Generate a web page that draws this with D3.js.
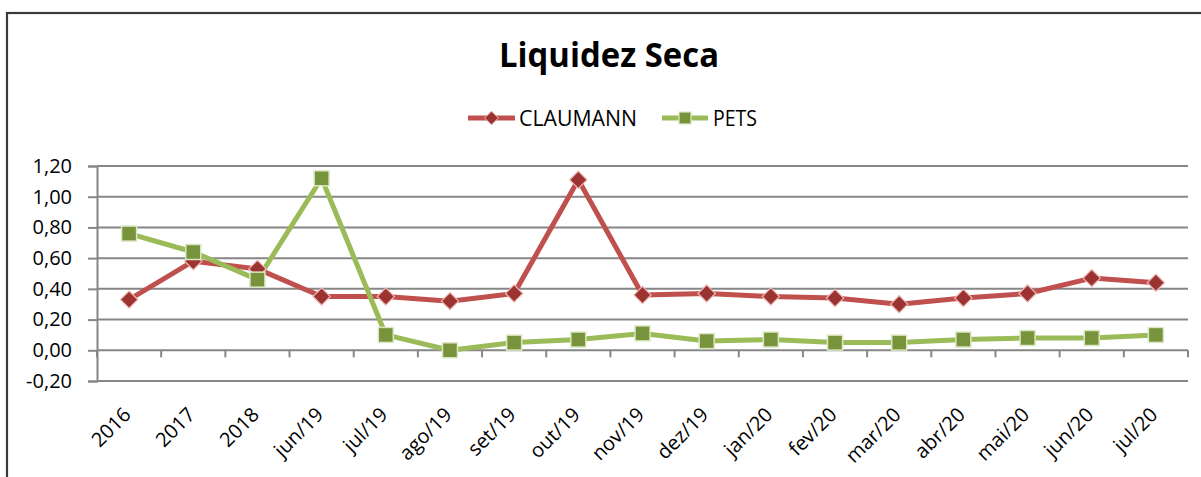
<!DOCTYPE html>
<html>
<head>
<meta charset="utf-8">
<script src="https://cdn.jsdelivr.net/npm/d3@7"></script>
<style>
  html, body { margin: 0; padding: 0; background: #fff; }
  svg { display: block; }
  text { font-family: "Open Sans", "Noto Sans", sans-serif; fill: #000; }
</style>
</head>
<body>
<div id="chart"></div>
<script>
// ── dados ──
const categories = ['2016', '2017', '2018', 'jun/19', 'jul/19', 'ago/19', 'set/19', 'out/19',
  'nov/19', 'dez/19', 'jan/20', 'fev/20', 'mar/20', 'abr/20', 'mai/20', 'jun/20', 'jul/20'];
const claumann = [0.33, 0.58, 0.53, 0.35, 0.35, 0.32, 0.37, 1.11, 0.36, 0.37, 0.35, 0.34, 0.30, 0.34, 0.37, 0.47, 0.44];
const pets     = [0.76, 0.64, 0.46, 1.12, 0.10, 0.00, 0.05, 0.07, 0.11, 0.06, 0.07, 0.05, 0.05, 0.07, 0.08, 0.08, 0.10];
const yTicks   = [-0.2, 0, 0.2, 0.4, 0.6, 0.8, 1.0, 1.2];
const seriesNames = ['CLAUMANN', 'PETS'];

const W = 1201, H = 477;
const M = { left: 97, right: 1188, top: 166, bottom: 381 };

const svg = d3.select('#chart').append('svg').attr('width', W).attr('height', H);

// moldura
svg.append('rect').attr('x', 7).attr('y', 13).attr('width', 1400).attr('height', 800)
  .attr('fill', 'none').attr('stroke', '#3a3a3a').attr('stroke-width', 2.2);

// ── escalas ──
const x = d3.scaleBand().domain(categories).range([M.left, M.right]).padding(0);
const y = d3.scaleLinear().domain([-0.2, 1.2]).range([M.bottom, M.top]);
const cx = c => x(c) + x.bandwidth() / 2;
const fmt = v => d3.format('.2f')(v).replace('.', ',').replace('−', '-');

// ── grade ──
const yAxis = d3.axisLeft(y).tickValues(yTicks).tickSize(9).tickFormat(fmt);
const gy = svg.append('g').attr('transform', `translate(${M.left},0)`).call(yAxis);
gy.select('.domain').attr('stroke', '#868686').attr('stroke-width', 2);
gy.selectAll('.tick line').attr('stroke', '#868686').attr('stroke-width', 2);
gy.selectAll('.tick text').attr('x', -25).attr('font-size', 20)
  .attr('font-family', '"Open Sans", sans-serif').attr('fill', '#000');
svg.append('g').selectAll('line').data(yTicks).enter().append('line')
  .attr('x1', M.left).attr('x2', M.right)
  .attr('y1', d => y(d)).attr('y2', d => y(d))
  .attr('stroke', '#868686').attr('stroke-width', 2);

// eixo x em zero
const bounds = categories.map(c => x(c) + x.bandwidth()).concat([M.left]);
svg.append('g').selectAll('line').data(bounds).enter().append('line')
  .attr('x1', d => d).attr('x2', d => d)
  .attr('y1', y(0)).attr('y2', y(0) + 7)
  .attr('stroke', '#868686').attr('stroke-width', 2);

// rótulos x
svg.append('g').selectAll('text').data(categories).enter().append('text')
  .attr('transform', d => `translate(${cx(d) + 3},${416}) rotate(-45)`)
  .attr('text-anchor', 'end').attr('font-size', 20)
  .text(d => d);

// ── séries ──
const line = d3.line().x((d, i) => cx(categories[i])).y(d => y(d));
const diamond = d3.symbol().type(d3.symbolDiamond2).size(190);

svg.append('path').datum(claumann).attr('d', line)
  .attr('fill', 'none').attr('stroke', '#c0504d').attr('stroke-width', 5).attr('stroke-linejoin', 'round');
svg.append('path').datum(pets).attr('d', line)
  .attr('fill', 'none').attr('stroke', '#9bbb59').attr('stroke-width', 5).attr('stroke-linejoin', 'round');

svg.append('g').selectAll('path').data(claumann).enter().append('path')
  .attr('d', diamond)
  .attr('transform', (d, i) => `translate(${cx(categories[i])},${y(d)})`)
  .attr('fill', '#9b3431').attr('stroke', '#eeb8b6').attr('stroke-width', 1.2);

const S = 15;
svg.append('g').selectAll('rect').data(pets).enter().append('rect')
  .attr('x', (d, i) => cx(categories[i]) - S / 2).attr('y', d => y(d) - S / 2)
  .attr('width', S).attr('height', S)
  .attr('fill', '#77933c').attr('stroke', '#dbe8c4').attr('stroke-width', 1.5);

// ── título ──
const title = svg.append('text').attr('x', 609).attr('y', 67)
  .attr('text-anchor', 'middle').attr('font-size', 34).attr('font-weight', 'bold')
  .attr('font-family', '"Liberation Sans Narrow", "Open Sans", sans-serif')
  .text('Liquidez Seca');
const tw = title.node().getComputedTextLength();
if (Math.abs(tw - 220) > 6) title.attr('textLength', 220).attr('lengthAdjust', 'spacingAndGlyphs');

// ── legenda ──
const legend = [
  { name: seriesNames[0], x0: 468, x1: 515, tx: 519, tw: 118, color: '#c0504d', mark: 'diamond' },
  { name: seriesNames[1], x0: 662, x1: 708, tx: 713, tw: 44, color: '#9bbb59', mark: 'square' }
];
const lg = svg.append('g').selectAll('g').data(legend).enter().append('g');
lg.append('line').attr('x1', d => d.x0).attr('x2', d => d.x1).attr('y1', 118).attr('y2', 118)
  .attr('stroke', d => d.color).attr('stroke-width', 5);
lg.filter(d => d.mark === 'diamond').append('path')
  .attr('d', d3.symbol().type(d3.symbolDiamond2).size(120))
  .attr('transform', d => `translate(${(d.x0 + d.x1) / 2},118)`)
  .attr('fill', '#9b3431').attr('stroke', '#eeb8b6').attr('stroke-width', 1);
lg.filter(d => d.mark === 'square').append('rect')
  .attr('x', d => (d.x0 + d.x1) / 2 - 6).attr('y', 112).attr('width', 12).attr('height', 12)
  .attr('fill', '#77933c').attr('stroke', '#dbe8c4').attr('stroke-width', 1.2);
lg.append('text').attr('x', d => d.tx).attr('y', 126).attr('font-size', 22)
  .attr('font-family', '"Liberation Sans Narrow", "Open Sans", sans-serif')
  .text(d => d.name)
  .each(function(d) {
    const w = this.getComputedTextLength();
    if (Math.abs(w - d.tw) > 4) d3.select(this).attr('textLength', d.tw).attr('lengthAdjust', 'spacingAndGlyphs');
  });
</script>
</body>
</html>
